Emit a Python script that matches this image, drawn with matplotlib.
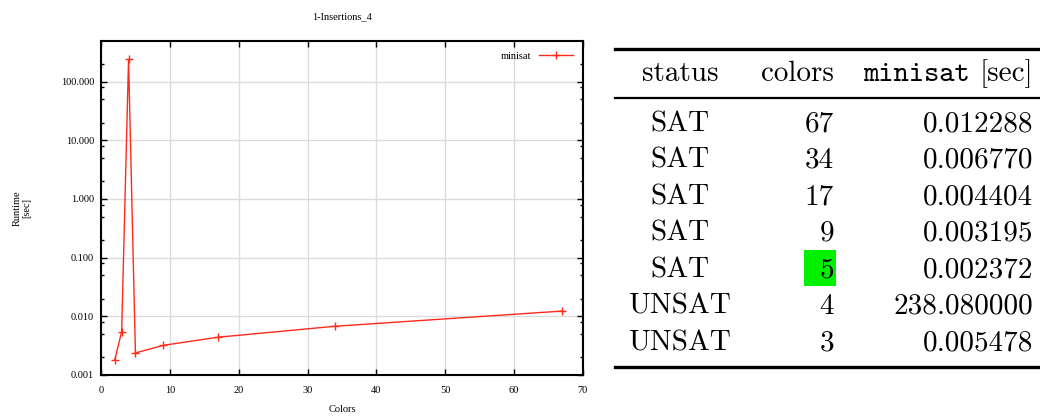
import matplotlib.pyplot as plt
from matplotlib.ticker import FixedLocator, NullFormatter
from matplotlib.patches import Rectangle

colors = [2, 3, 4, 5, 9, 17, 34, 67]
runtime = [0.0018, 0.005478, 238.08, 0.002372, 0.003195, 0.004404, 0.00677, 0.012288]

table_status = ["SAT", "SAT", "SAT", "SAT", "SAT", "UNSAT", "UNSAT"]
table_colors = ["67", "34", "17", "9", "5", "4", "3"]
table_times = ["0.012288", "0.006770", "0.004404", "0.003195", "0.002372", "238.080000", "0.005478"]
highlight_row = 4

W, H = 1040, 417
fig = plt.figure(figsize=(W / 100, H / 100), dpi=100)


def fx(px):
    return px / W


def fy(py):
    return 1 - py / H


# plot area in pixels: left 101, right 583, top 41, bottom 375
ax = fig.add_axes([fx(101), fy(375), (583 - 101) / W, (375 - 41) / H])

red = '#ff2a1a'
ax.plot(colors, runtime, color=red, lw=1.0, marker='+', ms=6, mew=1.0, label='minisat')

ax.set_yscale('log')
ax.set_xlim(0, 70)
ax.set_ylim(0.001, 490)

serif = 'Liberation Serif'
fs = 7.5

ax.set_xticks(range(0, 71, 10))
ax.set_xticklabels([str(v) for v in range(0, 71, 10)], family=serif, fontsize=fs)
majors = [0.001, 0.01, 0.1, 1, 10, 100]
ax.yaxis.set_major_locator(FixedLocator(majors))
ax.set_yticklabels(['0.001', '0.010', '0.100', '1.000', '10.000', '100.000'], family=serif, fontsize=fs)
# minor ticks as drawn in the reference (2, 5, 8 per decade)
minors = [m * d for d in majors for m in (2, 5, 8) if m * d < 490]
ax.yaxis.set_minor_locator(FixedLocator(minors))
ax.yaxis.set_minor_formatter(NullFormatter())

ax.tick_params(which='both', direction='in', top=True, right=True, colors='black')
ax.tick_params(which='major', length=4, width=1, pad=5)
ax.tick_params(axis='x', which='major', pad=8)
ax.tick_params(which='minor', length=2.5, width=1)
ax.grid(True, which='major', color='#dcdcdc', lw=1)
ax.set_axisbelow(True)
for s in ax.spines.values():
    s.set_linewidth(1.5)

fig.text(fx(342), fy(17), '1-Insertions_4', family=serif, fontsize=fs, ha='center', va='center')
fig.text(fx(342), fy(410), 'Colors', family=serif, fontsize=fs, ha='center', va='center')
fig.text(fx(22), fy(208), 'Runtime\n[sec]', family=serif, fontsize=fs, ha='center', va='center',
         rotation=90, multialignment='center')

ax.legend(loc='upper right', markerfirst=False, frameon=False,
          prop={'family': serif, 'size': fs}, handlelength=3.2,
          borderaxespad=0.6, handletextpad=0.8)

# table on the right
tfs = 21
rm = 'cmr10'
fig.add_artist(plt.Line2D([fx(615), fx(1040)], [fy(49), fy(49)], color='black', lw=2.4))
fig.add_artist(plt.Line2D([fx(615), fx(1040)], [fy(97.5), fy(97.5)], color='black', lw=1.6))
fig.add_artist(plt.Line2D([fx(615), fx(1040)], [fy(366.5), fy(366.5)], color='black', lw=2.4))

fig.text(fx(680), fy(80.7), 'status', family=rm, fontsize=tfs, ha='center', va='baseline')
fig.text(fx(834), fy(80.7), 'colors', family=rm, fontsize=tfs, ha='right', va='baseline')
fig.text(fx(970), fy(80.7), 'minisat', family='cmtt10', fontsize=tfs, ha='right', va='baseline')
fig.text(fx(1033), fy(80.7), '[sec]', family=rm, fontsize=tfs, ha='right', va='baseline')

row0, step = 131, 36.6
for i, (st, c, t) in enumerate(zip(table_status, table_colors, table_times)):
    yb = row0 + i * step
    if i == highlight_row:
        fig.add_artist(Rectangle((fx(804), fy(286)), fx(836) - fx(804), fy(250) - fy(286),
                                 color='#00f000', lw=0, transform=fig.transFigure))
    fig.text(fx(680), fy(yb), st, family=rm, fontsize=tfs, ha='center', va='baseline')
    fig.text(fx(834), fy(yb), c, family=rm, fontsize=tfs, ha='right', va='baseline')
    fig.text(fx(1033), fy(yb), t, family=rm, fontsize=tfs, ha='right', va='baseline')

fig.savefig('out.png', dpi=100)
